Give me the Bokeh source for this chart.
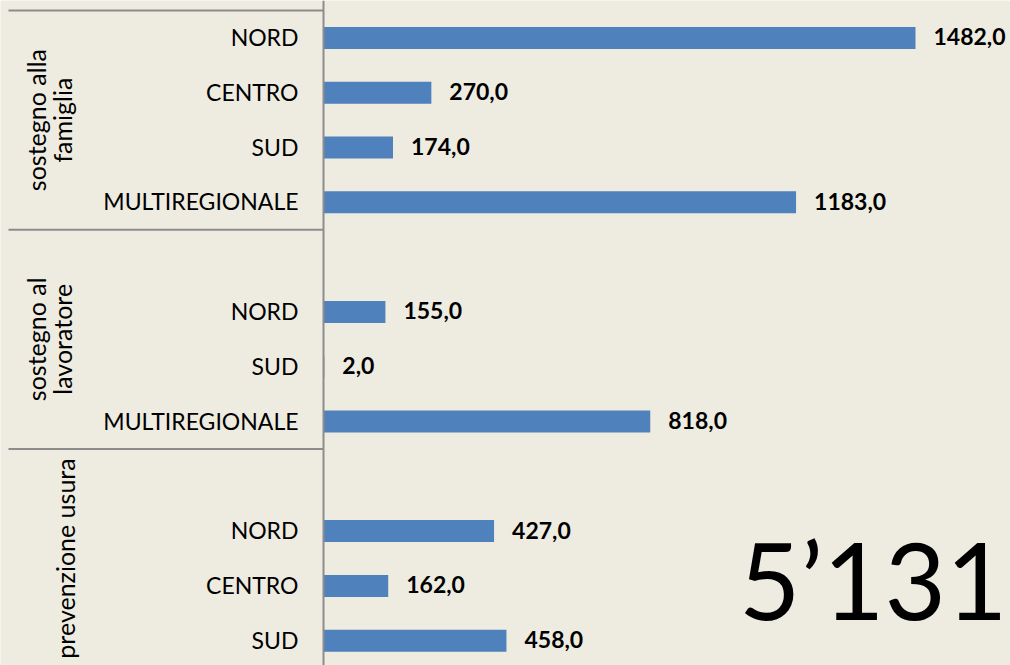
import numpy as np
from bokeh.plotting import figure
from bokeh.models import Range1d, ColumnDataSource, Label, Span
from bokeh.core.properties import value
from bokeh.embed import file_html
from bokeh.resources import INLINE

# ---- data ----
groups = ["sostegno alla famiglia"] * 4 + ["sostegno al lavoratore"] * 4 + ["prevenzione usura"] * 4
categories = ["NORD", "CENTRO", "SUD", "MULTIREGIONALE",
              "", "NORD", "SUD", "MULTIREGIONALE",
              "", "NORD", "CENTRO", "SUD"]
values = [1482.0, 270.0, 174.0, 1183.0,
          np.nan, 155.0, 2.0, 818.0,
          np.nan, 427.0, 162.0, 458.0]
group_lines = {
    "sostegno alla famiglia": ["sostegno alla", "famiglia"],
    "sostegno al lavoratore": ["sostegno al", "lavoratore"],
    "prevenzione usura": ["prevenzione usura"],
}
total_label = "5\u2019131"

# ---- layout ----
W, H = 1010, 665
axis_px = 323
px_per_unit = 592 / 1482
row_px = 54.8
top_px = 10
FONT = "Lato"
BG = "#EEECE1"
BAR = "#4F81BD"
LINE = "#8C8C8C"

x_start = -axis_px / px_per_unit
x_end = (W - axis_px) / px_per_unit
y_top = -top_px / row_px
y_bottom = (H - top_px) / row_px

p = figure(width=W, height=H, x_range=Range1d(x_start, x_end),
           y_range=Range1d(y_bottom, y_top),
           x_axis_location=None, y_axis_location=None,
           output_backend="svg", toolbar_location=None, min_border=0)
p.grid.visible = False
p.outline_line_color = None
p.background_fill_color = BG
p.border_fill_color = BG

rows = np.arange(len(categories)) + 0.5
vals = np.array(values)
mask = ~np.isnan(vals)

bar_src = ColumnDataSource(dict(
    y=rows[mask], v=vals[mask],
    lab=[f"{v:.1f}".replace(".", ",") for v in vals[mask]],
))
p.hbar(y="y", left=0, right="v", height=22 / row_px, source=bar_src,
       fill_color=BAR, line_color=None)
p.text(x="v", y="y", text="lab", source=bar_src, x_offset=18, y_offset=-1,
       text_baseline="middle", text_align="left",
       text_font=value(FONT), text_font_style="bold", text_font_size="23px",
       text_color="black")

cat_src = ColumnDataSource(dict(y=rows, cat=categories))
p.text(x=0, y="y", text="cat", source=cat_src, x_offset=-25, y_offset=-1,
       text_align="right", text_baseline="middle",
       text_font=value(FONT), text_font_size="23px", text_color="black")

# group separators
bounds = [0]
for i in range(1, len(groups)):
    if groups[i] != groups[i - 1]:
        bounds.append(i)
p.segment(x0=x_start + 8 / px_per_unit, x1=0, y0=bounds, y1=bounds,
          line_color=LINE, line_width=2)
p.add_layout(Span(location=0, dimension="height", line_color=LINE, line_width=2))

# group labels (rotated)
order = []
for g in groups:
    if g not in order:
        order.append(g)
gx, gy, gt = [], [], []
for g in order:
    idx = [i for i, gg in enumerate(groups) if gg == g]
    center = (min(idx) + max(idx) + 1) / 2
    lines = group_lines[g]
    xs_px = [35, 61] if len(lines) == 2 else [64]
    for t, xp in zip(lines, xs_px):
        gx.append(x_start + xp / px_per_unit)
        gy.append(center)
        gt.append(t)
p.text(x=gx, y=gy, text=gt, angle=np.pi / 2, text_align="center",
       text_baseline="middle", text_font=value(FONT), text_font_size="25px",
       text_color="black")

p.add_layout(Label(x=x_start + 1007 / px_per_unit, y=(578 - top_px) / row_px,
                   text=total_label, text_align="right", text_baseline="middle",
                   text_font=FONT, text_font_size="106px", text_color="black"))

open("out.html", "w").write(file_html(p, INLINE))
